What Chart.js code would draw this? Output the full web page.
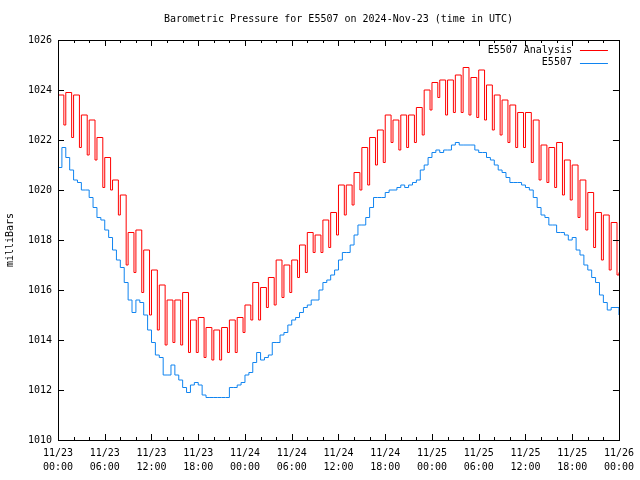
<!DOCTYPE html>
<html>
<head>
<meta charset="utf-8">
<script src="https://cdn.jsdelivr.net/npm/chart.js@4.4.1/dist/chart.umd.min.js"></script>
<style>
  html, body { margin: 0; padding: 0; background: #fff; }
</style>
</head>
<body>
<canvas id="grafico" width="640" height="480"></canvas>
<script>
/* datos */
const titulo = 'Barometric Pressure for E5507 on 2024-Nov-23 (time in UTC)';
const nombres = ['E5507 Analysis', 'E5507'];

// horas desde 11/23 00:00 para las etiquetas del eje x (cada 6 h)
const horasEtiquetas = [0, 6, 12, 18, 24, 30, 36, 42, 48, 54, 60, 66, 72];
const etiquetasX = [
  ['11/23', '00:00'], ['11/23', '06:00'], ['11/23', '12:00'], ['11/23', '18:00'],
  ['11/24', '00:00'], ['11/24', '06:00'], ['11/24', '12:00'], ['11/24', '18:00'],
  ['11/25', '00:00'], ['11/25', '06:00'], ['11/25', '12:00'], ['11/25', '18:00'],
  ['11/26', '00:00']
];
const etiquetasY = ['1010', '1012', '1014', '1016', '1018', '1020', '1022', '1024', '1026'];

// analisis: valor al inicio de cada hora y valor bajo a los 45 min
const analisisAlto = [
  1023.8, 1023.9, 1023.8, 1023.0, 1022.8, 1022.1, 1021.3, 1020.4, 1019.8, 1018.3, 1018.4, 1017.6,
  1016.8, 1016.2, 1015.6, 1015.6, 1015.9, 1014.8, 1014.9, 1014.5, 1014.4, 1014.5, 1014.8, 1014.9,
  1015.4, 1016.3, 1016.1, 1016.5, 1017.2, 1017.0, 1017.2, 1017.8, 1018.3, 1018.2, 1018.8, 1019.1,
  1020.2, 1020.2, 1020.7, 1021.7, 1022.1, 1022.4, 1023.0, 1022.8, 1023.0, 1023.0, 1023.3, 1024.0,
  1024.3, 1024.4, 1024.4, 1024.6, 1024.9, 1024.5, 1024.8, 1024.2, 1023.8, 1023.6, 1023.4, 1023.1,
  1023.1, 1022.8, 1021.8, 1021.7, 1021.9, 1021.2, 1021.0, 1020.4, 1019.9, 1019.1, 1019.0, 1018.7
];
const analisisBajo = [
  1022.6, 1022.1, 1021.7, 1021.4, 1021.2, 1020.1, 1020.0, 1019.0, 1017.0, 1016.7, 1015.9, 1015.0,
  1014.4, 1013.8, 1013.9, 1013.8, 1013.5, 1013.5, 1013.3, 1013.2, 1013.2, 1013.5, 1013.5, 1014.3,
  1014.8, 1014.8, 1015.3, 1015.4, 1015.7, 1015.9, 1016.5, 1016.7, 1017.5, 1017.5, 1017.7, 1018.2,
  1019.0, 1019.4, 1020.0, 1020.2, 1021.0, 1021.1, 1021.9, 1021.6, 1021.7, 1021.9, 1022.2, 1023.2,
  1023.7, 1023.0, 1023.1, 1023.1, 1023.0, 1022.9, 1022.8, 1022.4, 1022.2, 1021.9, 1021.7, 1021.7,
  1021.1, 1020.4, 1020.3, 1020.1, 1019.8, 1019.6, 1018.9, 1018.4, 1017.7, 1017.2, 1016.8, 1016.6
];
const analisisFinal = 1016.7;
const minutoBajo = 45;

// observaciones cada 30 min
const observado = [
  1020.9, 1021.7, 1021.3, 1020.8, 1020.4, 1020.3, 1020.0, 1020.0, 1019.7, 1019.3, 1018.9, 1018.8,
  1018.4, 1018.1, 1017.6, 1017.2, 1016.9, 1016.3, 1015.6, 1015.1, 1015.6, 1015.5, 1015.0, 1014.4,
  1013.9, 1013.4, 1013.3, 1012.6, 1012.6, 1013.0, 1012.6, 1012.4, 1012.1, 1011.9, 1012.2, 1012.3,
  1012.2, 1011.8, 1011.7, 1011.7, 1011.7, 1011.7, 1011.7, 1011.7, 1012.1, 1012.1, 1012.2, 1012.3,
  1012.6, 1012.7, 1013.1, 1013.5, 1013.2, 1013.3, 1013.4, 1013.9, 1013.9, 1014.2, 1014.3, 1014.6,
  1014.8, 1014.9, 1015.1, 1015.3, 1015.4, 1015.6, 1015.6, 1016.0, 1016.3, 1016.4, 1016.6, 1016.8,
  1017.2, 1017.5, 1017.5, 1017.8, 1018.2, 1018.6, 1018.6, 1018.9, 1019.3, 1019.7, 1019.7, 1019.7,
  1019.9, 1020.0, 1020.0, 1020.1, 1020.2, 1020.1, 1020.2, 1020.3, 1020.4, 1020.8, 1021.0, 1021.3,
  1021.5, 1021.6, 1021.5, 1021.6, 1021.6, 1021.8, 1021.9, 1021.8, 1021.8, 1021.8, 1021.8, 1021.6,
  1021.5, 1021.5, 1021.3, 1021.2, 1021.0, 1020.8, 1020.7, 1020.5, 1020.3, 1020.3, 1020.3, 1020.2,
  1020.1, 1020.0, 1019.7, 1019.3, 1019.0, 1018.9, 1018.6, 1018.6, 1018.3, 1018.3, 1018.2, 1018.0,
  1018.1, 1017.6, 1017.4, 1017.0, 1016.8, 1016.5, 1016.3, 1015.8, 1015.5, 1015.2, 1015.3, 1015.3,
  1015.0
];

/* puntos */
const puntosAnalisis = [];
analisisAlto.forEach((v, h) => {
    puntosAnalisis.push({ x: h, y: v });
    puntosAnalisis.push({ x: h + minutoBajo / 60, y: analisisBajo[h] });
});
puntosAnalisis.push({ x: analisisAlto.length, y: analisisFinal });

const puntosObs = observado.map((v, i) => ({ x: i * 0.5, y: v }));

const fuente = 'DejaVu Sans Mono';

/* marco estilo gnuplot: caja, ticks hacia dentro, titulo y leyenda */
const marco = {
    id: 'marco',
    afterDraw(chart) {
        const ctx = chart.ctx;
        const a = chart.chartArea;
        const sx = chart.scales.x;
        const sy = chart.scales.y;
        ctx.save();
        ctx.strokeStyle = '#000';
        ctx.lineWidth = 1;
        ctx.strokeRect(Math.round(a.left) + 0.5, Math.round(a.top) + 0.5,
            Math.round(a.right - a.left), Math.round(a.bottom - a.top));

        ctx.beginPath();
        for (let h = 0; h <= 72; h += 2) {
            const px = Math.round(sx.getPixelForValue(h)) + 0.5;
            const len = (h % 6 === 0) ? 6 : 3;
            ctx.moveTo(px, a.bottom); ctx.lineTo(px, a.bottom - len);
            ctx.moveTo(px, a.top); ctx.lineTo(px, a.top + len);
        }
        etiquetasY.forEach(t => {
            const py = Math.round(sy.getPixelForValue(Number(t))) + 0.5;
            ctx.moveTo(a.left, py); ctx.lineTo(a.left + 6, py);
            ctx.moveTo(a.right, py); ctx.lineTo(a.right - 6, py);
        });
        ctx.stroke();

        ctx.fillStyle = '#000';
        ctx.font = '10px "' + fuente + '"';
        ctx.textAlign = 'center';
        ctx.textBaseline = 'middle';
        ctx.fillText(titulo, (a.left + a.right) / 2, 19);

        ctx.textAlign = 'right';
        chart.data.datasets.forEach((ds, i) => {
            const y = 50 + i * 12.5;
            ctx.fillStyle = '#000';
            ctx.fillText(ds.label, a.right - 47, y);
            ctx.strokeStyle = ds.borderColor;
            ctx.beginPath();
            ctx.moveTo(a.right - 39, Math.round(y) + 0.5);
            ctx.lineTo(a.right - 11, Math.round(y) + 0.5);
            ctx.stroke();
        });
        ctx.restore();
    }
};

const grafico = document.getElementById('grafico').getContext('2d');

new Chart(grafico, {
    type: 'line',
    data: {
        datasets: [{
            label: nombres[0],
            data: puntosAnalisis,
            borderColor: '#ff0000',
            borderWidth: 1,
            stepped: true,
            pointRadius: 0,
            fill: false
        }, {
            label: nombres[1],
            data: puntosObs,
            borderColor: '#1084f0',
            borderWidth: 1,
            stepped: true,
            pointRadius: 0,
            fill: false
        }]
    },
    options: {
        responsive: false,
        devicePixelRatio: 1,
        animation: false,
        layout: {
            padding: { top: 40, right: 19, bottom: 0, left: 0 }
        },
        plugins: {
            legend: { display: false },
            tooltip: { enabled: false },
            title: { display: false }
        },
        scales: {
            x: {
                type: 'linear',
                min: 0,
                max: 72,
                afterFit: s => { s.height = 40; },
                afterBuildTicks: s => { s.ticks = horasEtiquetas.map(v => ({ value: v })); },
                grid: { display: false, drawTicks: false },
                border: { display: true, color: '#000' },
                ticks: {
                    padding: 6,
                    maxRotation: 0,
                    autoSkip: false,
                    color: '#000',
                    font: { family: fuente, size: 10, lineHeight: 1.4 },
                    callback: v => etiquetasX[horasEtiquetas.indexOf(v)]
                }
            },
            y: {
                min: 1010,
                max: 1026,
                afterFit: s => { s.width = 58; },
                afterBuildTicks: s => { s.ticks = etiquetasY.map(t => ({ value: Number(t) })); },
                grid: { display: false, drawTicks: false },
                border: { display: true, color: '#000' },
                title: {
                    display: true,
                    text: 'milliBars',
                    color: '#000',
                    padding: 4,
                    font: { family: fuente, size: 10 }
                },
                ticks: {
                    padding: 6,
                    color: '#000',
                    font: { family: fuente, size: 10 },
                    callback: v => etiquetasY[etiquetasY.indexOf(String(v))]
                }
            }
        }
    },
    plugins: [marco]
});
</script>
</body>
</html>
